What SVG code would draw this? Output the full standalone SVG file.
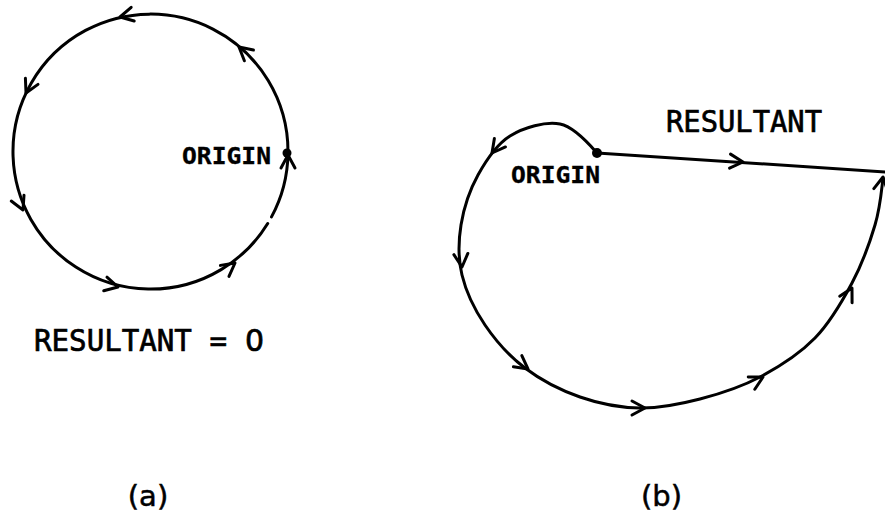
<svg xmlns="http://www.w3.org/2000/svg" xmlns:xlink="http://www.w3.org/1999/xlink" width="885" height="517" viewBox="0 0 885 517">
<style>
.ln{fill:none;stroke:#000;stroke-width:3;stroke-linecap:round;stroke-linejoin:round}
.mono{font-family:"DejaVu Sans Mono","Liberation Mono",monospace;fill:#000;stroke:#000;stroke-width:0.7}
.bold{font-weight:bold;stroke-width:0.3}
.cap{font-family:"DejaVu Sans","Liberation Sans",sans-serif;fill:#000;stroke:#000;stroke-width:0.5;font-size:29px;text-anchor:middle}
.zero{font-family:"DejaVu Sans","Liberation Sans",sans-serif;fill:#000;stroke:#000;stroke-width:0.7;font-size:30px}
</style>
<defs>
<path id="ah" class="ln" d="M -13 -7 L 0 0 L -13 7"/>
</defs>
<rect width="885" height="517" fill="#fff"/>
<g id="connectors">
<path id="circle-a" class="ln" d="M 271.5 216.9 A 137.5 137.5 0 1 0 267.7 223.5"/>
<use xlink:href="#ah" href="#ah" transform="translate(120,17) rotate(167.5)"/>
<use xlink:href="#ah" href="#ah" transform="translate(239,47) rotate(-139.7)"/>
<use xlink:href="#ah" href="#ah" transform="translate(26,93) rotate(116)"/>
<use xlink:href="#ah" href="#ah" transform="translate(23,210) rotate(65.6)"/>
<use xlink:href="#ah" href="#ah" transform="translate(118,287) rotate(13.4)"/>
<use xlink:href="#ah" href="#ah" transform="translate(235,263) rotate(-37.6)"/>
<use xlink:href="#ah" href="#ah" transform="translate(288,155) rotate(-90)"/>
<path id="spiral-b" class="ln" d="M 597 153 C 590.3 145.3, 574.5 126.8, 560 124 C 545.5 121.2, 523.7 127.5, 510 136 C 496.3 144.5, 486.2 160.2, 478 175 C 469.8 189.8, 463.7 208.3, 461 225 C 458.3 241.7, 458 258.3, 462 275 C 466 291.7, 474.5 309.5, 485 325 C 495.5 340.5, 509.2 356, 525 368 C 540.8 380, 560.8 390.3, 580 397 C 599.2 403.7, 620 407.7, 640 408 C 660 408.3, 680 404.2, 700 399 C 720 393.8, 740.8 387.2, 760 377 C 779.2 366.8, 799.7 353.7, 815 338 C 830.3 322.3, 842 301.8, 852 283 C 862 264.2, 869.8 242.5, 875 225 C 880.2 207.5, 881.3 192.2, 883 178"/>
<path id="resultant-b" class="ln" d="M 597 153 L 886 172"/>
<use xlink:href="#ah" href="#ah" transform="translate(743,162) rotate(4)"/>
<use xlink:href="#ah" href="#ah" transform="translate(492,153) rotate(127.6)"/>
<use xlink:href="#ah" href="#ah" transform="translate(462,267) rotate(85)"/>
<use xlink:href="#ah" href="#ah" transform="translate(528,369) rotate(37)"/>
<use xlink:href="#ah" href="#ah" transform="translate(645,408) rotate(0)"/>
<use xlink:href="#ah" href="#ah" transform="translate(763,377) rotate(-28)"/>
<use xlink:href="#ah" href="#ah" transform="translate(852,288) rotate(-62)"/>
<use xlink:href="#ah" href="#ah" transform="translate(883,177) rotate(-80)"/>
</g>
<g id="origin-a">
<circle cx="287" cy="153" r="4.5"/>
<text class="mono bold" x="182" y="164" font-size="23" textLength="89" lengthAdjust="spacingAndGlyphs">ORIGIN</text>
</g>
<g id="origin-b">
<circle cx="597" cy="153" r="5"/>
<text class="mono bold" x="511" y="183" font-size="23" textLength="89" lengthAdjust="spacingAndGlyphs">ORIGIN</text>
</g>
<g id="labels">
<text class="mono" x="34" y="351" font-size="30" textLength="193" lengthAdjust="spacingAndGlyphs">RESULTANT =</text>
<text class="zero" x="245" y="351">0</text>
<text class="mono" x="666" y="132" font-size="30" textLength="156" lengthAdjust="spacingAndGlyphs">RESULTANT</text>
<text class="cap" x="148" y="506">(a)</text>
<text class="cap" x="661.5" y="506">(b)</text>
</g>
</svg>
